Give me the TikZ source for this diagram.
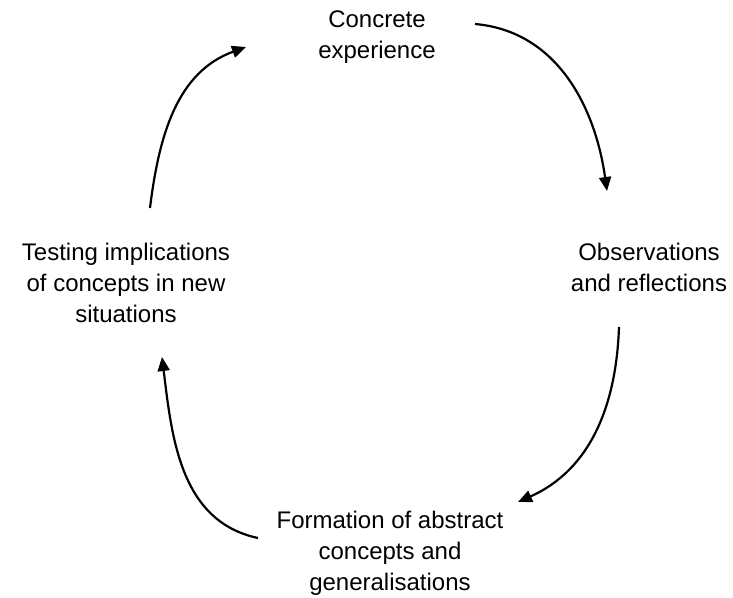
\documentclass[tikz,border=0pt]{standalone}
\usepackage{fontspec}
\setmainfont{Liberation Sans}
\usetikzlibrary{arrows.meta}
\begin{document}
\begin{tikzpicture}[x=1pt,y=1pt,
  label/.style={align=center, inner sep=0pt, anchor=base, font=\fontsize{24}{31}\selectfont},
  cyc/.style={line width=2.2pt, -{Triangle[length=14pt,width=12pt]}}]
\useasboundingbox (0,0) rectangle (733,597);
\node[label] (ce) at (377,538) {Concrete\\experience};
\node[label] (obs) at (649,305) {Observations\\and reflections};
\node[label] (form) at (390,7) {Formation of abstract\\concepts and\\generalisations};
\node[label] (test) at (126,274) {Testing implications\\of concepts in new\\situations};
\coordinate (a1s) at (150,389);
\coordinate (a1e) at (246,550);
\coordinate (a2s) at (475,573);
\coordinate (a2e) at (607,406);
\coordinate (a3s) at (619,270);
\coordinate (a3e) at (518,95);
\coordinate (a4s) at (258,59);
\coordinate (a4e) at (162,240);
\draw[cyc] (a1s) to[out=83,in=200] (a1e);
\draw[cyc] (a2s) to[out=-5,in=98] (a2e);
\draw[cyc] (a3s) to[out=-92,in=24] (a3e);
\draw[cyc] (a4s) to[out=168,in=-83] (a4e);
\end{tikzpicture}
\end{document}
